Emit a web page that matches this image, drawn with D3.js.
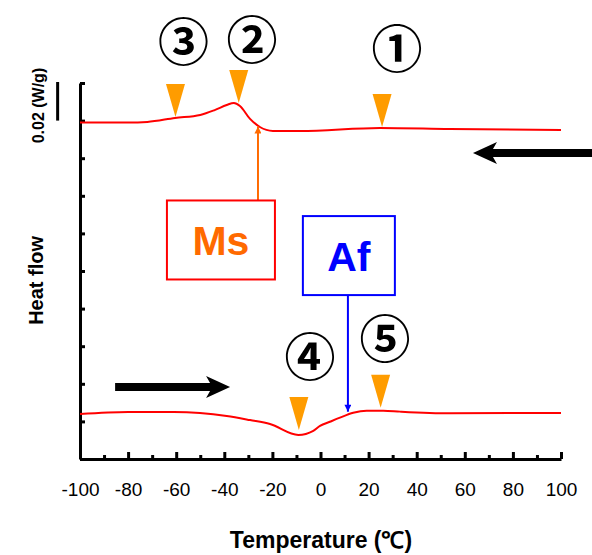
<!DOCTYPE html>
<html>
<head>
<meta charset="utf-8">
<script src="https://cdn.jsdelivr.net/npm/d3@7"></script>
<style>
  body { margin: 0; background: #fff; }
  svg text { font-family: "Liberation Sans", Arial, sans-serif; }
</style>
</head>
<body>
<svg id="chart" width="592" height="555"></svg>
<script>
// cooling curve (upper) and heating curve (lower): [temperature, heat flow W/g]
const coolingCurve = [
  [-100, 0.1790], [-80, 0.1790], [-72, 0.1793], [-60.5, 0.1814], [-50, 0.1830],
  [-44, 0.1856], [-39, 0.1883], [-36, 0.1894], [-33.5, 0.1878], [-29.3, 0.1809],
  [-25.2, 0.1766], [-19.8, 0.1745], [-8.5, 0.1745], [24.7, 0.1761], [53.8, 0.1755],
  [100, 0.1750]
];
const heatingCurve = [
  [-100, 0.0239], [-80, 0.0250], [-61, 0.0250], [-39, 0.0229], [-29.3, 0.0207],
  [-21, 0.0186], [-9.2, 0.0128], [-3, 0.0150], [-0.2, 0.0176], [3.9, 0.0198],
  [8.1, 0.0220], [13.6, 0.0246], [19.2, 0.0257], [26.1, 0.0257], [33.1, 0.0252],
  [53.8, 0.0243], [100, 0.0245]
];

// triangle markers (apex) and their circled labels
const markerPoints = [[-60.3, 0.1819], [-34, 0.1894], [25.6, 0.1766], [-9, 0.0154], [25, 0.0272]];
const circledLabels = [
  {text: "③", t: -57, v: 0.2235},
  {text: "②", t: -28.5, v: 0.2245},
  {text: "①", t: 31.8, v: 0.2196},
  {text: "④", t: -4.4, v: 0.0558},
  {text: "⑤", t: 26.8, v: 0.0654}
];

const xTicks = [-100, -80, -60, -40, -20, 0, 20, 40, 60, 80, 100];
const xMinorTicks = d3.range(-90, 100, 20);
const yTicks = d3.range(0, 0.2001, 0.02);

// Ms / Af boxes: box centre, arrow temperature
const msBox = {label: "Ms", t: -41.4, v: 0.1165, arrowT: -26};
const afBox = {label: "Af", t: 11.8, v: 0.1082, arrowT: 11.4};

// direction arrows [tail, tip]
const coolArrow = [[113, 0.1628], [63.4, 0.1628]];
const heatArrow = [[-85.4, 0.0383], [-37.6, 0.0383]];
const scaleBar = {t: -109.3, v0: 0.18, v1: 0.20, label: "0.02 (W/g)"};

const svg = d3.select("#chart");
const x = d3.scaleLinear().domain([-100, 100]).range([80, 561]);
const y = d3.scaleLinear().domain([0, 0.2]).range([459, 83]);

function interp(curve, t) {
  const xs = curve.map(d => d[0]);
  const i = Math.max(1, Math.min(curve.length - 1, d3.bisectLeft(xs, t)));
  const a = curve[i - 1], b = curve[i];
  return a[1] + (b[1] - a[1]) * (t - a[0]) / (b[0] - a[0]);
}

// axes
const xMinor = svg.append("g")
  .attr("transform", `translate(0,${y(0)})`)
  .call(d3.axisBottom(x).tickValues(xMinorTicks).tickSize(-4).tickFormat(""));
xMinor.select(".domain").remove();
xMinor.selectAll("line").attr("stroke-width", 3);

const xAxis = svg.append("g")
  .attr("transform", `translate(0,${y(0)})`)
  .call(d3.axisBottom(x).tickValues(xTicks).tickSize(-7).tickSizeOuter(0).tickPadding(24).tickFormat(d => String(d)));
xAxis.select(".domain").attr("stroke-width", 3);
xAxis.selectAll("line").attr("stroke-width", 3);
xAxis.selectAll("text").style("font-size", "19px").attr("fill", "#000");

const yAxis = svg.append("g")
  .attr("transform", `translate(${x(-100)},0)`)
  .call(d3.axisLeft(y).tickValues(yTicks).tickSize(-5).tickSizeOuter(0).tickFormat(""));
yAxis.select(".domain").attr("stroke-width", 3);
yAxis.selectAll("line").attr("stroke-width", 3);

// curves
const line = d3.line().x(d => x(d[0])).y(d => y(d[1])).curve(d3.curveMonotoneX);
[coolingCurve, heatingCurve].forEach(c => {
  svg.append("path").attr("d", line(c))
    .attr("fill", "none").attr("stroke", "#ff0000").attr("stroke-width", 2);
});

// orange triangles
svg.selectAll(".marker").data(markerPoints).enter().append("path")
  .attr("class", "marker")
  .attr("d", d => {
    const px = x(d[0]), py = y(d[1]);
    return `M${px - 9.5},${py - 33}L${px + 9.5},${py - 33}L${px},${py}Z`;
  })
  .attr("fill", "#ff9c00");

svg.selectAll(".circled").data(circledLabels).enter().append("text")
  .attr("class", "circled")
  .attr("x", d => x(d.t)).attr("y", d => y(d.v))
  .attr("text-anchor", "middle").attr("dominant-baseline", "central")
  .style("font-family", "'Noto Sans CJK JP', 'DejaVu Sans', sans-serif")
  .style("font-size", "51px").style("font-weight", "bold")
  .text(d => d.text);

// arrowhead markers
const defs = svg.append("defs");
[["headOrange", "#ff6a00"], ["headBlue", "#0000ff"]].forEach(([id, col]) => {
  defs.append("marker").attr("id", id)
    .attr("viewBox", "0 0 10 10").attr("refX", 10).attr("refY", 5)
    .attr("markerWidth", 8).attr("markerHeight", 7).attr("markerUnits", "userSpaceOnUse")
    .attr("orient", "auto")
    .append("path").attr("d", "M0,0L10,5L0,10Z").attr("fill", col);
});

// Ms box
const msW = 108, msH = 79;
svg.append("line")
  .attr("x1", x(msBox.arrowT)).attr("x2", x(msBox.arrowT))
  .attr("y1", y(msBox.v) - msH / 2).attr("y2", y(interp(coolingCurve, msBox.arrowT)) + 1)
  .attr("stroke", "#ff6a00").attr("stroke-width", 2).attr("marker-end", "url(#headOrange)");
svg.append("rect")
  .attr("x", x(msBox.t) - msW / 2).attr("y", y(msBox.v) - msH / 2)
  .attr("width", msW).attr("height", msH)
  .attr("fill", "#fff").attr("stroke", "#ff0000").attr("stroke-width", 2);
svg.append("text")
  .attr("x", x(msBox.t)).attr("y", y(msBox.v) + 15)
  .attr("text-anchor", "middle")
  .style("font-size", "41px").style("font-weight", "bold").attr("fill", "#ff6a00")
  .text(msBox.label);

// Af box
const afW = 92, afH = 79;
svg.append("line")
  .attr("x1", x(afBox.arrowT)).attr("x2", x(afBox.arrowT))
  .attr("y1", y(afBox.v) + afH / 2).attr("y2", y(interp(heatingCurve, afBox.arrowT)) - 3)
  .attr("stroke", "#0000ff").attr("stroke-width", 2).attr("marker-end", "url(#headBlue)");
svg.append("rect")
  .attr("x", x(afBox.t) - afW / 2).attr("y", y(afBox.v) - afH / 2)
  .attr("width", afW).attr("height", afH)
  .attr("fill", "#fff").attr("stroke", "#0000ff").attr("stroke-width", 2);
svg.append("text")
  .attr("x", x(afBox.t)).attr("y", y(afBox.v) + 15)
  .attr("text-anchor", "middle")
  .style("font-size", "41px").style("font-weight", "bold").attr("fill", "#0000ff")
  .text(afBox.label);

// black direction arrows
function bigArrow(a) {
  const x0 = x(a[0][0]), x1 = x(a[1][0]), py = y(a[0][1]);
  const dir = Math.sign(x1 - x0), hw = 24, hh = 11, sh = 4;
  const xb = x1 - dir * hw;
  svg.append("path")
    .attr("d", `M${x0},${py - sh}L${xb + dir * 4},${py - sh}L${xb},${py - hh}L${x1},${py}L${xb},${py + hh}L${xb + dir * 4},${py + sh}L${x0},${py + sh}Z`)
    .attr("fill", "#000");
}
bigArrow(coolArrow);
bigArrow(heatArrow);

// scale bar
svg.append("line")
  .attr("x1", x(scaleBar.t)).attr("x2", x(scaleBar.t))
  .attr("y1", y(scaleBar.v0)).attr("y2", y(scaleBar.v1) - 1)
  .attr("stroke", "#000").attr("stroke-width", 3);
svg.append("text")
  .attr("transform", `translate(44,${y(0.188)}) rotate(-90)`)
  .attr("text-anchor", "middle")
  .style("font-size", "16px").style("font-weight", "bold")
  .text(scaleBar.label);

// axis titles
svg.append("text")
  .attr("transform", `translate(43,${y(0.095)}) rotate(-90)`)
  .attr("text-anchor", "middle")
  .style("font-size", "20px").style("font-weight", "bold")
  .text("Heat flow");

svg.append("text")
  .attr("x", 321).attr("y", 548)
  .attr("text-anchor", "middle")
  .style("font-size", "23px").style("font-weight", "bold")
  .text("Temperature (℃)");
</script>
</body>
</html>
